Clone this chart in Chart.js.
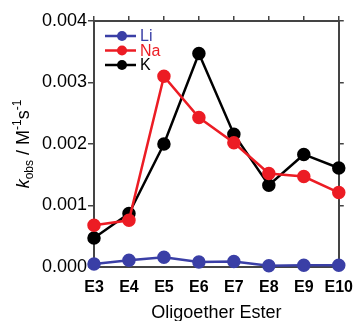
<!DOCTYPE html>
<html>
<head>
<meta charset="utf-8">
<script src="https://cdn.jsdelivr.net/npm/chart.js@4/dist/chart.umd.min.js"></script>
<style>
  html, body { margin: 0; padding: 0; background: #fff; }
  #wrap { width: 364px; height: 321px; }
</style>
</head>
<body>
<div id="wrap"><canvas id="kChart" width="364" height="321"></canvas></div>
<script>
// data
const esters = ['E3', 'E4', 'E5', 'E6', 'E7', 'E8', 'E9', 'E10'];
const li = [0.00005, 0.00011, 0.00016, 0.00008, 0.00009, 0.00002, 0.00003, 0.00003];
const na = [0.00068, 0.00076, 0.0031, 0.00243, 0.00202, 0.00152, 0.00147, 0.00121];
const k = [0.00047, 0.00087, 0.002, 0.00347, 0.00216, 0.00133, 0.00183, 0.00161];
const yTicks = [0, 0.001, 0.002, 0.003, 0.004];

const frame = '#444';
const font = 'Liberation Sans, Arial, Helvetica, sans-serif';

function series(label, data, color, order) {
  return {
    label: label,
    data: data,
    borderColor: color,
    backgroundColor: color,
    pointBackgroundColor: color,
    pointBorderColor: color,
    borderWidth: 2.5,
    pointRadius: 5.5,
    pointHoverRadius: 5.5,
    tension: 0,
    clip: false,
    order: order
  };
}

// legend inside the plot, top-left
const insideLegend = {
  id: 'insideLegend',
  afterDatasetsDraw(chart) {
    const ctx = chart.ctx;
    const names = ['Li', 'Na', 'K'];
    const ys = [36, 50.5, 65];
    names.forEach((name, i) => {
      const ds = chart.data.datasets.find(d => d.label === name);
      ctx.save();
      ctx.strokeStyle = ds.borderColor;
      ctx.fillStyle = ds.borderColor;
      ctx.lineWidth = 2.5;
      ctx.beginPath();
      ctx.moveTo(105, ys[i]);
      ctx.lineTo(136, ys[i]);
      ctx.stroke();
      ctx.beginPath();
      ctx.arc(122, ys[i], 5, 0, Math.PI * 2);
      ctx.fill();
      ctx.font = '16px ' + font;
      ctx.textBaseline = 'middle';
      ctx.fillText(name, 140, ys[i] + 1);
      ctx.restore();
    });
  }
};

// y title: k_obs / M^-1 s^-1
const yTitle = {
  id: 'yTitle',
  afterDraw(chart) {
    const ctx = chart.ctx;
    const area = chart.chartArea;
    const parts = [
      { t: 'k', f: 'italic 18px ' + font, dy: 0 },
      { t: 'obs', f: '12px ' + font, dy: 4 },
      { t: ' / M', f: '18px ' + font, dy: 0 },
      { t: '-1', f: '12px ' + font, dy: -8 },
      { t: 's', f: '18px ' + font, dy: 0 },
      { t: '-1', f: '12px ' + font, dy: -8 }
    ];
    ctx.save();
    let total = 0;
    parts.forEach(p => { ctx.font = p.f; p.w = ctx.measureText(p.t).width; total += p.w; });
    ctx.translate(29, (area.top + area.bottom) / 2);
    ctx.rotate(-Math.PI / 2);
    ctx.fillStyle = '#000';
    ctx.textBaseline = 'alphabetic';
    let x = -total / 2;
    parts.forEach(p => {
      ctx.font = p.f;
      ctx.fillText(p.t, x, p.dy);
      x += p.w;
    });
    ctx.restore();
  }
};

new Chart(document.getElementById('kChart'), {
  type: 'line',
  data: {
    labels: esters,
    datasets: [
      series('Li', li, '#3a3fa6', 2),
      series('Na', na, '#ec1c24', 0),
      series('K', k, '#000000', 1)
    ]
  },
  options: {
    responsive: false,
    animation: false,
    layout: { padding: 0 },
    plugins: {
      legend: { display: false },
      tooltip: { enabled: false }
    },
    scales: {
      x: {
        type: 'category',
        position: 'bottom',
        offset: false,
        afterFit(s) { s.height = 54; },
        grid: { drawOnChartArea: false, drawTicks: false },
        border: { color: frame, width: 2 },
        ticks: {
          color: '#000',
          padding: 11,
          maxRotation: 0,
          autoSkip: false,
          font: { family: font, size: 16, weight: 'bold' }
        },
        title: {
          display: true,
          text: 'Oligoether Ester',
          color: '#000',
          padding: { top: 0, bottom: -3 },
          font: { family: font, size: 18 }
        }
      },
      x2: {
        type: 'category',
        position: 'top',
        labels: esters,
        offset: false,
        afterFit(s) { s.height = 21; },
        grid: { drawOnChartArea: false, tickLength: 5, color: frame, lineWidth: 1.5 },
        border: { color: frame, width: 2 },
        ticks: { display: false }
      },
      y: {
        position: 'left',
        min: 0,
        max: 0.004,
        afterFit(s) { s.width = 94; },
        afterBuildTicks(s) { s.ticks = yTicks.map(v => ({ value: v })); },
        grid: { drawOnChartArea: false, tickLength: 6, color: frame, lineWidth: 1.5 },
        border: { color: frame, width: 2 },
        ticks: {
          color: '#000',
          padding: 1,
          font: { family: font, size: 18 },
          callback: v => v.toFixed(3)
        }
      },
      y2: {
        position: 'right',
        min: 0,
        max: 0.004,
        afterFit(s) { s.width = 21; },
        afterBuildTicks(s) { s.ticks = yTicks.map(v => ({ value: v })); },
        grid: { drawOnChartArea: false, tickLength: 5, color: frame, lineWidth: 1.5 },
        border: { color: frame, width: 2 },
        ticks: { display: false }
      }
    }
  },
  plugins: [insideLegend, yTitle]
});
</script>
</body>
</html>
